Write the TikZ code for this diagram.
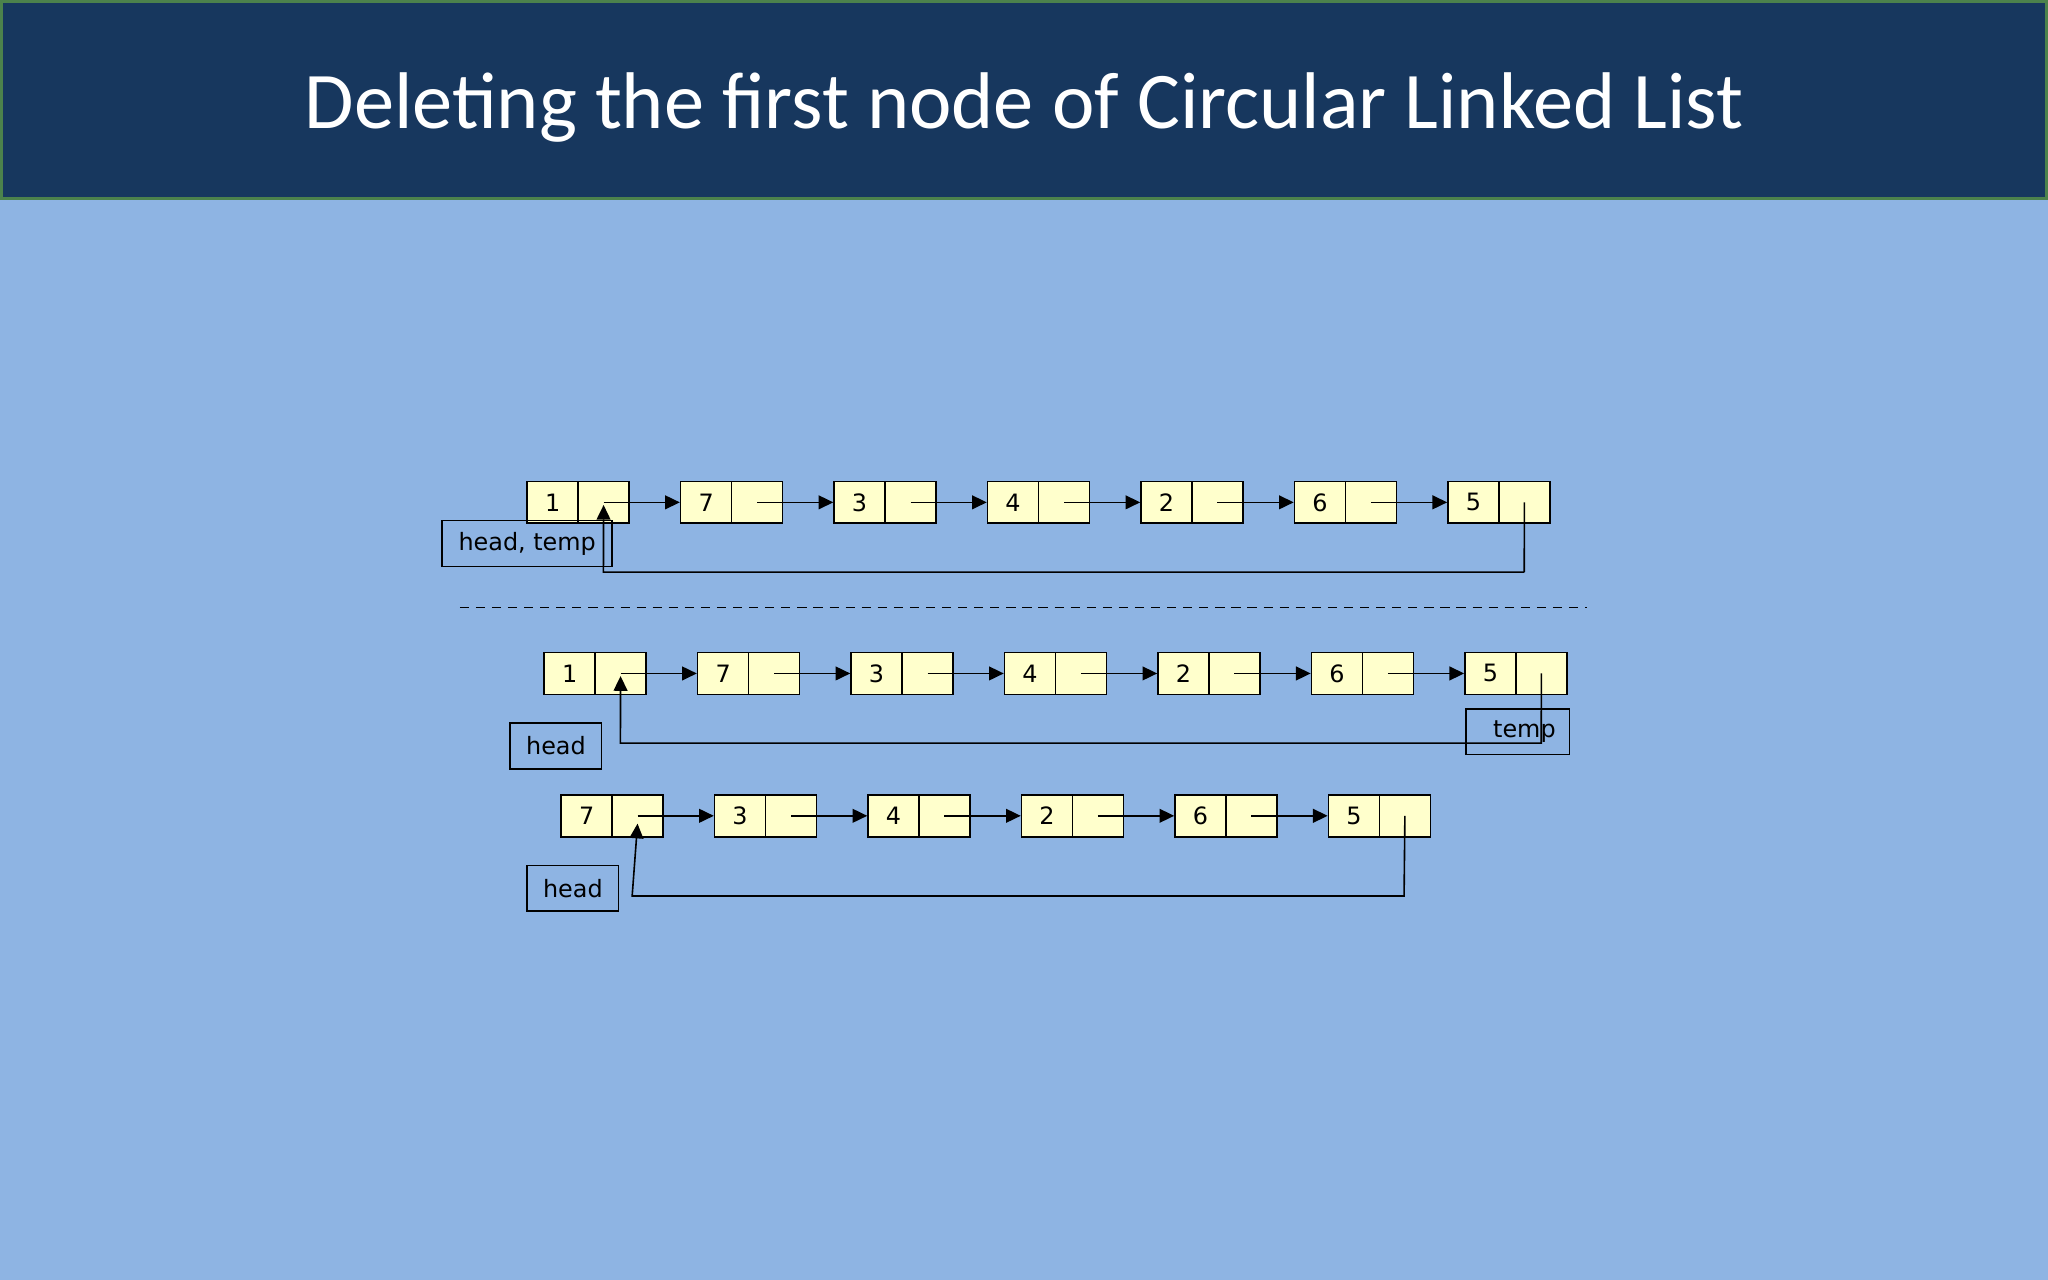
\documentclass[tikz,border=0pt]{standalone}
\usepackage{fontspec}
\setmainfont{DejaVu Sans}
\newfontfamily\titlefont{Carlito}
\usetikzlibrary{arrows.meta}
\definecolor{bg}{HTML}{8EB4E3}
\definecolor{navy}{HTML}{17375E}
\definecolor{cellc}{HTML}{FFFFCC}
\tikzset{
 cell/.style={draw=black, fill=cellc, minimum width=0.39cm, minimum height=0.32cm, inner sep=0pt, font=\fontsize{5.2pt}{6pt}\selectfont, line width=0.35pt},
 lbl/.style={draw=black, inner sep=0pt, font=\fontsize{5.2pt}{6pt}\selectfont, line width=0.35pt},
 lnk/.style={line width=0.35pt, -{Triangle[length=3.2pt,width=3pt]}},
 ln/.style={line width=0.35pt}
}
\begin{document}
\begin{tikzpicture}[x=0.01cm,y=-0.01cm]
\fill[bg] (0,0) rectangle (1568,980);
\useasboundingbox (0,0) rectangle (1568,980);
\fill[navy] (0,0) rectangle (1568,153);
\draw[color=green!30!black!70, line width=0.6pt] (1,1) rectangle (1567,152);
\node[text=white, font=\titlefont\fontsize{17.5pt}{20pt}\selectfont] (title) at (784,82) {Deleting the first node of Circular Linked List};
% row 1
\foreach \v [count=\i] in {1,7,3,4,2,6,5}{
  \pgfmathsetmacro\xx{403+(\i-1)*117.5}
  \node[cell, anchor=north west] (a\i) at (\xx,368) {\v};
  \node[cell, anchor=north west] (b\i) at (\xx+39,368) {};
}
\foreach \i [evaluate=\i as \j using int(\i+1)] in {1,...,6}{
  \draw[lnk] (b\i.center) -- (a\j.west);
}
\node[lbl, minimum width=1.30cm, minimum height=0.35cm, anchor=north west] (l1) at (338,398) {head, temp};
\coordinate (r1a) at (1167,438);
\coordinate (r1b) at (462,438);
\draw[ln] (b7.center) -- (r1a);
\draw[lnk] (b7.south |- r1a) -- (r1b) -- ([yshift=-0.02cm]b1.center);
% dashed
\coordinate (d1) at (352,465); \coordinate (d2) at (1215,465);
\draw[dashed, line width=0.35pt, dash pattern=on 2pt off 1.5pt] (d1) -- (d2);
% row 2
\foreach \v [count=\i] in {1,7,3,4,2,6,5}{
  \pgfmathsetmacro\xx{416+(\i-1)*117.5}
  \node[cell, anchor=north west] (c\i) at (\xx,499) {\v};
  \node[cell, anchor=north west] (d\i) at (\xx+39,499) {};
}
\foreach \i [evaluate=\i as \j using int(\i+1)] in {1,...,6}{
  \draw[lnk] (d\i.center) -- (c\j.west);
}
\node[lbl, minimum width=0.70cm, minimum height=0.35cm, anchor=north west] (l2) at (390,553) {head};
\node[lbl, minimum width=0.79cm, minimum height=0.35cm, anchor=north west] (l3) at (1122,542) {\hspace*{0.1cm}temp};
\coordinate (r2a) at (1180,569);
\coordinate (r2b) at (475,569);
\draw[lnk] (d7.center) -- (r2a) -- (r2b) -- ([yshift=-0.02cm]d1.center);
% row 3
\foreach \v [count=\i] in {7,3,4,2,6,5}{
  \pgfmathsetmacro\xx{429+(\i-1)*117.5}
  \node[cell, anchor=north west] (e\i) at (\xx,608) {\v};
  \node[cell, anchor=north west] (f\i) at (\xx+39,608) {};
}
\foreach \i [evaluate=\i as \j using int(\i+1)] in {1,...,5}{
  \draw[lnk] (f\i.center) -- (e\j.west);
}
\node[lbl, minimum width=0.70cm, minimum height=0.35cm, anchor=north west] (l4) at (403,662) {head};
\coordinate (r3a) at (1075,686);
\coordinate (r3b) at (484,686);
\draw[lnk] (f6.center) -- (r3a) -- (r3b) -- ([yshift=-0.06cm]f1.center);
\end{tikzpicture}
\end{document}
